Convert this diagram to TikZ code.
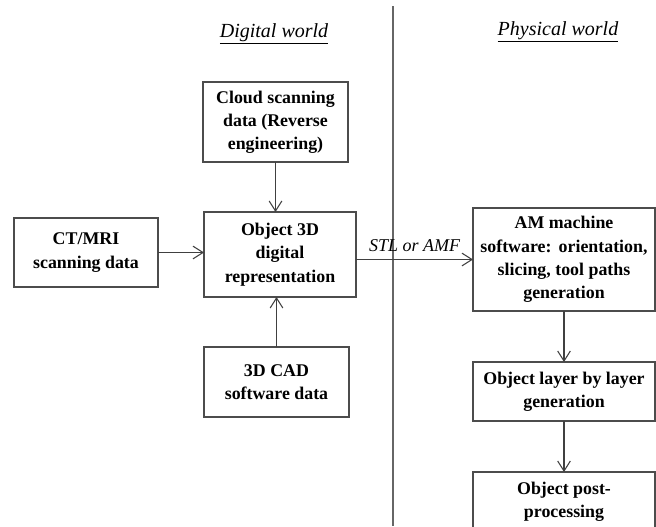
\documentclass[tikz,border=0pt]{standalone}
\usepackage{fontspec}
\setmainfont{Liberation Serif}
\usetikzlibrary{arrows.meta}
\begin{document}
\begin{tikzpicture}[x=0.75pt, y=-0.75pt,
  box/.style={draw=black!70, line width=0.9pt, align=center, inner sep=0pt, outer sep=0pt,
    font=\fontsize{13.4}{17.4}\selectfont\bfseries},
  flow/.style={draw=black!75, line width=0.9pt, -{Straight Barb[length=7.5pt, width=9.5pt, line width=0.8pt]}},
  heading/.style={anchor=base, font=\fontsize{15}{18}\selectfont\itshape}]
  % Page frame
  \clip (0,0) rectangle (656,526);

  % Digital world boxes
  \node[box, minimum width=108.75pt, minimum height=60pt] (cloud) at (275.5,122) {Cloud scanning\\data (Reverse\\engineering)};
  \node[box, minimum width=114pt, minimum height=63.75pt] (obj) at (280,254.5) {Object 3D\\digital\\representation};
  \node[box, minimum width=108pt, minimum height=51.75pt] (ctmri) at (86,252.5) {CT/MRI\\scanning data};
  \node[box, minimum width=108.75pt, minimum height=52.5pt] (cad) at (276.5,382) {3D CAD\\software data};

  % Physical world boxes
  \node[box, minimum width=136.5pt, minimum height=77.25pt] (am) at (564,259.5) {AM machine\\software:\hspace{0.4em}orientation,\\slicing, tool paths\\generation};
  \node[box, minimum width=136.5pt, minimum height=44.25pt] (layer) at (564,391.5) {Object layer by layer\\generation};
  \node[box, minimum width=136.5pt, minimum height=45pt] (post) at (564,502) {Object post-\\processing};

  % Headings
  \node[heading] (digital) at (274,37) {\underline{Digital world}};
  \node[heading] (physical) at (558,35) {\underline{Physical world}};

  % Divider between the two worlds
  \coordinate (divtop) at (393,6);
  \coordinate (divbot) at (393,526);
  \draw[black!60, line width=1pt] (divtop) -- (divbot);

  % Data flow
  \draw[flow] (ctmri.east) -- (ctmri.east -| obj.west);
  \draw[flow] (cloud.south) -- (cloud.south |- obj.north);
  \draw[flow] (cad.north) -- (cad.north |- obj.south);
  \draw[flow] (obj.east |- am.west) -- node[above, yshift=2pt, font=\fontsize{13.5}{16}\selectfont\itshape] {STL or AMF} (am.west);
  \draw[flow] (am.south) -- (layer.north);
  \draw[flow] (layer.south) -- (post.north);
\end{tikzpicture}
\end{document}
